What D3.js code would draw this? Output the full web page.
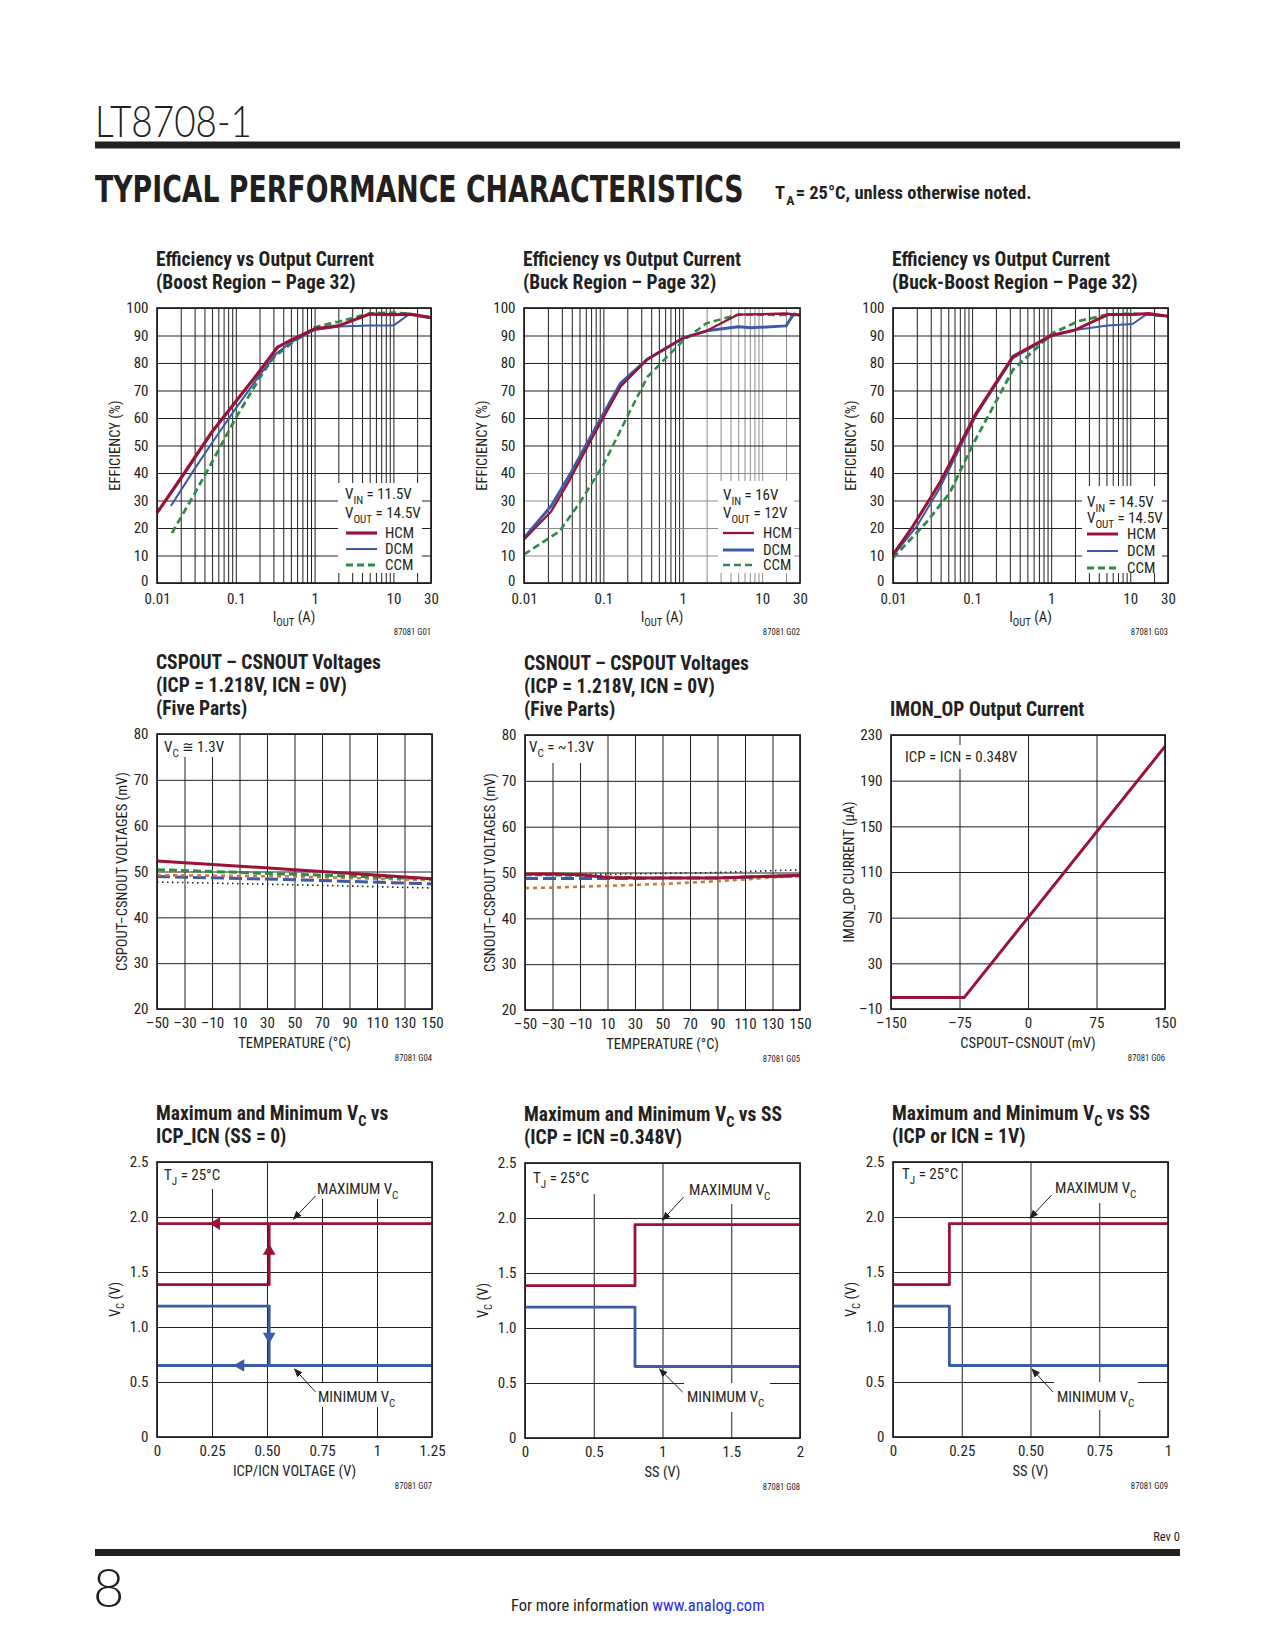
<!DOCTYPE html>
<html><head><meta charset="utf-8">
<script src="https://cdn.jsdelivr.net/npm/d3@7"></script>
<style>body{margin:0;background:#fff}svg{display:block}</style>
</head><body><svg id="c" width="1275" height="1650"></svg>
<script>
// ================= DATA =================
const MODES = ['HCM', 'DCM', 'CCM'];
const EFF_X_TICKS = [0.01, 0.1, 1, 10, 30];
const EFF_X_LABELS = ['0.01', '0.1', '1', '10', '30'];
const EFF_Y_TICKS = [0, 10, 20, 30, 40, 50, 60, 70, 80, 90, 100];
const EFF_Y_LABELS = ['0', '10', '20', '30', '40', '50', '60', '70', '80', '90', '100'];

// G01 boost region  [IOUT (A), efficiency %]
const G01_HCM = [[0.01,25.5],[0.02,38],[0.05,55],[0.1,66],[0.2,77],[0.34,85.8],[0.5,88.3],[1,92.4],[2,93.5],[5,97.8],[10,97.6],[16,97.8],[30,96.5]];
const G01_DCM = [[0.015,28],[0.03,41.5],[0.05,51],[0.1,63.5],[0.2,75.5],[0.33,83.5],[0.5,87.5],[1,92],[2,93.3],[5,93.6],[10,93.6],[16,97.8],[30,96.4]];
const G01_CCM = [[0.0155,18.2],[0.03,32.5],[0.05,44],[0.1,60],[0.2,74.5],[0.3,82],[0.5,87],[1,93],[2,95],[5,98],[10,98.3],[16,97.9],[30,96.4]];
const G01_COND = ['11.5V', '14.5V'];
// G02 buck region
const G02_HCM = [[0.01,15.8],[0.022,26],[0.038,37.7],[0.07,52],[0.165,71.5],[0.36,81.4],[1,89],[2,91.7],[5,97.6],[10,97.8],[20,98],[30,97.4]];
const G02_DCM = [[0.01,16.4],[0.022,28],[0.038,39.5],[0.07,53.5],[0.165,72.7],[0.36,81.4],[1,89],[2,91.7],[5,93.2],[7.3,92.8],[20,93.5],[25,97.8],[30,97.4]];
const G02_CCM = [[0.01,10.4],[0.028,18.8],[0.05,29],[0.1,43],[0.2,60.5],[0.36,75],[1,88],[2,94.5],[5,97.6],[30,97.4]];
const G02_COND = ['16V', '12V'];
// G03 buck-boost region
const G03_HCM = [[0.01,10.3],[0.018,20.8],[0.039,36.4],[0.113,61.8],[0.33,82.4],[1,90],[2,92],[5.2,97.6],[10.7,97.6],[17,98],[30,97]];
const G03_DCM = [[0.01,10],[0.02,20.6],[0.039,34.5],[0.113,61],[0.33,81.8],[1,89.7],[2,92],[5.2,93.6],[10.7,94.2],[15.8,97.6],[30,97]];
const G03_CCM = [[0.01,9.1],[0.026,21.8],[0.052,32.7],[0.102,50.3],[0.33,77.6],[1.05,90.9],[2.2,95.2],[5.2,97.6],[10.7,98],[30,97]];
const G03_COND = ['14.5V', '14.5V'];

// G04 / G05 temperature sweeps (five parts)
const TEMP_TICKS = [-50, -30, -10, 10, 30, 50, 70, 90, 110, 130, 150];
const TEMP_LABELS = ['\u201350', '\u201330', '\u201310', '10', '30', '50', '70', '90', '110', '130', '150'];
const MV_TICKS = [20, 30, 40, 50, 60, 70, 80];
const MV_LABELS = ['20', '30', '40', '50', '60', '70', '80'];
const G04_T = [-50, 50, 150];
const G04_P1 = [52.3, 50.4, 48.4];
const G04_P2 = [50.4, 49.4, 48.4];
const G04_P3 = [49.2, 48.9, 48.1];
const G04_P4 = [48.9, 48.2, 47.3];
const G04_P5 = [47.7, 47.1, 46.4];
const G05_T = [-50, -30, -10, 10, 30, 50, 70, 90, 110, 130, 150];
const G05_P1 = [49.7, 49.7, 49.5, 48.9, 48.8, 48.8, 48.8, 48.8, 49.0, 49.2, 49.4];
const G05_P2 = [49.6, 49.6, 49.6, 49.6, 49.7, 49.8, 49.9, 50.0, 50.2, 50.4, 50.6];
const G05_P3 = [48.7, 48.7, 48.7, 48.7, 48.7, 48.8, 48.8, 48.8, 49.0, 49.2, 49.3];
const G05_P4 = [49.4, 49.4, 49.3, 49.1, 48.9, 48.8, 48.8, 48.8, 48.9, 49.1, 49.2];
const G05_P5 = [46.6, 46.7, 46.9, 47.1, 47.3, 47.5, 47.8, 48.1, 48.5, 48.9, 49.3];

// G06 IMON_OP
const G06_X_TICKS = [-150, -75, 0, 75, 150];
const G06_X_LABELS = ['\u2013150', '\u201375', '0', '75', '150'];
const G06_Y_TICKS = [-10, 30, 70, 110, 150, 190, 230];
const G06_Y_LABELS = ['\u201310', '30', '70', '110', '150', '190', '230'];
const G06_MV = [-150, -70, 150];
const G06_UA = [0, 0, 220];

// G07..G09  VC limits
const VC_TICKS = [0, 0.5, 1, 1.5, 2, 2.5];
const VC_LABELS = ['0', '0.5', '1.0', '1.5', '2.0', '2.5'];
const G07_X_TICKS = [0, 0.25, 0.5, 0.75, 1, 1.25];
const G07_X_LABELS = ['0', '0.25', '0.50', '0.75', '1', '1.25'];
const G07_MAX_HI = [[0, 1.94], [1.25, 1.94]];
const G07_MAX_LO = [[0, 1.385], [0.51, 1.385], [0.51, 1.94]];
const G07_MIN_LO = [[0, 0.65], [1.25, 0.65]];
const G07_MIN_HI = [[0, 1.19], [0.51, 1.19], [0.51, 0.65]];
const G07_FLOW = [[0.27, 1.94, 'left', 'max'], [0.51, 1.69, 'up', 'max'], [0.51, 0.915, 'down', 'min'], [0.38, 0.65, 'left', 'min']];
const G08_X_TICKS = [0, 0.5, 1, 1.5, 2];
const G08_X_LABELS = ['0', '0.5', '1', '1.5', '2'];
const G08_MAX = [[0, 1.385], [0.8, 1.385], [0.8, 1.94], [2, 1.94]];
const G08_MIN = [[0, 1.19], [0.8, 1.19], [0.8, 0.65], [2, 0.65]];
const G09_X_TICKS = [0, 0.25, 0.5, 0.75, 1];
const G09_X_LABELS = ['0', '0.25', '0.50', '0.75', '1'];
const G09_MAX = [[0, 1.385], [0.205, 1.385], [0.205, 1.94], [1, 1.94]];
const G09_MIN = [[0, 1.19], [0.205, 1.19], [0.205, 0.65], [1, 0.65]];
// callout arrows [tailX, tailY, tipX, tipY] in data units
const G07_CALL = [[0.72, 2.19, 0.62, 1.98], [0.72, 0.41, 0.625, 0.62]];
const G08_CALL = [[1.153, 2.19, 1.0, 1.98], [1.146, 0.418, 0.978, 0.627]];
const G09_CALL = [[0.577, 2.2, 0.498, 1.99], [0.582, 0.409, 0.505, 0.618]];

// ================= STYLE =================
const FONT = "'Liberation Sans Narrow','Arial Narrow','Roboto Condensed','DejaVu Sans Condensed',sans-serif";
const INK = '#231f20', RED = '#9a1236', BLUE = '#3b5aa8', GREEN = '#2f8a49', ORANGE = '#c97a36';

const svg = d3.select('#c');
svg.append('rect').attr('width', 1275).attr('height', 1650).attr('fill', '#fff');
const defs = svg.append('defs');
defs.append('marker').attr('id', 'ah').attr('viewBox', '0 0 10 10').attr('refX', 9).attr('refY', 5)
  .attr('markerWidth', 9).attr('markerHeight', 9).attr('markerUnits', 'userSpaceOnUse').attr('orient', 'auto')
  .append('path').attr('d', 'M0,1 L10,5 L0,9 Z').attr('fill', INK);

function rich(parent, x, y, parts, o) {
  const fs = o.size;
  const t = parent.append('text').attr('x', x).attr('y', y)
    .attr('font-family', o.family || FONT).attr('font-size', fs)
    .attr('font-weight', o.weight || 'normal').attr('fill', o.fill || INK)
    .attr('text-anchor', o.anchor || 'start');
  if (o.rotate) t.attr('transform', `rotate(-90,${x},${y})`);
  let shift = 0;
  parts.forEach(p => {
    const isSub = typeof p !== 'string' && p.sub !== undefined;
    const txt = typeof p === 'string' ? p : (isSub ? p.sub : p.t);
    const target = isSub ? fs * 0.3 : 0;
    const ts = t.append('tspan').text(txt);
    if (target !== shift) { ts.attr('dy', target - shift); shift = target; }
    if (isSub) ts.attr('font-size', fs * 0.74);
    if (typeof p !== 'string' && p.fill) ts.attr('fill', p.fill);
  });
  return t;
}

// text squeezed horizontally to a given width via a transform (keeps bbox honest)
function fitText(parent, x, y, str, width, o) {
  const t = parent.append('text').attr('x', 0).attr('y', 0)
    .attr('font-family', o.family).attr('font-weight', o.weight).attr('font-size', o.size)
    .attr('fill', INK).text(str);
  const natural = t.node().getComputedTextLength();
  t.attr('transform', `translate(${x},${y}) scale(${width / natural},1)`);
  return t;
}

// separate text pieces laid out one after another (no tspans)
function pieces(parent, x, y, parts, o) {
  let cx = x;
  parts.forEach(p => {
    const isSub = typeof p !== 'string';
    const fs = isSub ? o.size * 0.74 : o.size;
    const t = parent.append('text').attr('x', cx).attr('y', isSub ? y + o.size * 0.3 : y)
      .attr('font-family', FONT).attr('font-size', fs).attr('font-weight', o.weight || 'normal')
      .attr('fill', INK).text(isSub ? p.sub : p);
    cx += t.node().getComputedTextLength() + 1.2;
  });
}

function panel(c) {
  const R = c.L + c.W, B = c.T + c.H;
  const x = c.x.copy().range([c.L, R]);
  const y = c.y.copy().range([B, c.T]);
  const g = svg.append('g');
  const gc = c.gridColor || (() => INK);
  const gx = g.append('g').attr('transform', `translate(0,${B})`)
    .call(d3.axisBottom(x).tickValues(c.xGrid).tickSize(-c.H).tickFormat(''));
  gx.select('.domain').remove();
  gx.selectAll('.tick line').attr('stroke', d => gc('x', d)).attr('stroke-width', 1);
  const gy = g.append('g').attr('transform', `translate(${c.L},0)`)
    .call(d3.axisLeft(y).tickValues(c.yGrid).tickSize(-c.W).tickFormat(''));
  gy.select('.domain').remove();
  gy.selectAll('.tick line').attr('stroke', d => gc('y', d)).attr('stroke-width', 1);
  (c.masks || []).forEach(m => {
    const ox = m[4] === 'R' ? R : c.L, oy = m[5] === 'B' ? B : c.T;
    g.append('rect').attr('x', ox + m[0]).attr('y', oy + m[1]).attr('width', m[2]).attr('height', m[3]).attr('fill', '#fff');
  });
  const line = d3.line().x(d => x(d[0])).y(d => y(d[1]));
  (c.series || []).forEach(s => {
    g.append('path').datum(s.data).attr('d', line).attr('fill', 'none')
      .attr('stroke', s.color).attr('stroke-width', s.w)
      .attr('stroke-dasharray', s.dash || null).attr('stroke-linejoin', 'round')
      .attr('stroke-linecap', s.cap || 'butt');
  });
  g.append('rect').attr('x', c.L).attr('y', c.T).attr('width', c.W).attr('height', c.H)
    .attr('fill', 'none').attr('stroke', INK).attr('stroke-width', 1.7);
  // tick labels
  const lx = g.append('g').attr('transform', `translate(0,${B})`)
    .call(d3.axisBottom(x).tickValues(c.xTicks).tickFormat((d, i) => c.xLabels[i]).tickSize(0).tickPadding(c.xPad || 8.3));
  lx.select('.domain').remove();
  lx.selectAll('text').attr('font-family', FONT).attr('font-size', 15).attr('fill', INK);
  const ly = g.append('g').attr('transform', `translate(${c.L},0)`)
    .call(d3.axisLeft(y).tickValues(c.yTicks).tickFormat((d, i) => c.yLabels[i]).tickSize(0).tickPadding(8.5));
  ly.select('.domain').remove();
  ly.selectAll('text').attr('font-family', FONT).attr('font-size', 15).attr('fill', INK);
  if (c.y0Lift) ly.selectAll('.tick').filter(d => d === c.yTicks[0]).select('text').attr('y', -c.y0Lift);
  // titles
  const n = c.title.length;
  c.title.forEach((parts, i) => rich(g, c.L - 1, c.T - 19 - 23 * (n - 1 - i), parts, { size: 19.5, weight: 'bold' }));
  rich(g, c.L - c.yTitleOff, c.T + c.H / 2, c.yTitle, { size: 14.5, anchor: 'middle', rotate: true });
  rich(g, c.L + c.W / 2, B + 38.5, c.xTitle, { size: 14.5, anchor: 'middle' });
  g.append('text').attr('x', R).attr('y', B + 52).attr('text-anchor', 'end')
    .attr('font-family', FONT).attr('font-size', 8.7).attr('fill', INK).text(c.code);
  (c.notes || []).forEach(nt => rich(g, c.L + nt[0], c.T + nt[1], nt[2], { size: 15 }));
  return { g, x, y, R, B };
}

function effLegend(p, lg, cond, styles) {
  rich(p.g, p.R + lg.tx, p.B + lg.vin, ['V', { sub: 'IN' }, ' = ' + cond[0]], { size: 15 });
  rich(p.g, p.R + lg.tx, p.B + lg.vout, ['V', { sub: 'OUT' }, ' = ' + cond[1]], { size: 15 });
  MODES.forEach((m, i) => {
    const yy = p.B + lg.rows[i];
    p.g.append('line').attr('x1', p.R + lg.lx).attr('x2', p.R + lg.lx + 31).attr('y1', yy).attr('y2', yy)
      .attr('stroke', styles[i].color).attr('stroke-width', styles[i].w).attr('stroke-dasharray', styles[i].dash || null);
    p.g.append('text').attr('x', p.R + lg.mx).attr('y', yy + 5).attr('font-family', FONT).attr('font-size', 15)
      .attr('fill', INK).text(m);
  });
}

function callouts(p, calls, labels) {
  calls.forEach(cl => {
    p.g.append('line').attr('x1', p.x(cl[0])).attr('y1', p.y(cl[1])).attr('x2', p.x(cl[2])).attr('y2', p.y(cl[3]))
      .attr('stroke', INK).attr('stroke-width', 1).attr('marker-end', 'url(#ah)');
  });
  labels.forEach(lb => rich(p.g, p.x.range()[0] + lb[0], p.y.range()[1] + lb[1], lb[2], { size: 15 }));
}

// ================= HEADER / FOOTER =================
fitText(svg, 95, 137, 'LT8708-1', 157, { family: "Lato,'DejaVu Sans',sans-serif", weight: 300, size: 44 });
svg.append('rect').attr('x', 95).attr('y', 141.5).attr('width', 1085).attr('height', 7).attr('fill', INK);
fitText(svg, 95, 202, 'TYPICAL PERFORMANCE CHARACTERISTICS', 649,
  { family: "'DejaVu Sans Condensed','DejaVu Sans',sans-serif", weight: 'bold', size: 38 });
pieces(svg, 775, 199, ['T', { sub: 'A' }, '= 25°C, unless otherwise noted.'], { size: 18.5, weight: 'bold' });
svg.append('text').attr('x', 1180).attr('y', 1541).attr('text-anchor', 'end').attr('font-family', FONT)
  .attr('font-size', 12.5).attr('fill', INK).text('Rev 0');
svg.append('rect').attr('x', 95).attr('y', 1549).attr('width', 1085).attr('height', 7).attr('fill', INK);
svg.append('text').attr('x', 93).attr('y', 1607).attr('font-family', "Lato,'DejaVu Sans',sans-serif").attr('font-weight', 300)
  .attr('font-size', 54).attr('fill', INK).text('8');
rich(svg, 511, 1611, ['For more information ', { t: 'www.analog.com', fill: '#1f2cf0' }], { size: 16.5 });

// ================= ROW 1: efficiency =================
const logGrid = d3.scaleLog().domain([0.01, 30]).ticks();
function effCfg(L, title, code, series, extra) {
  return Object.assign({
    L: L, T: 308, W: 275, H: 275,
    x: d3.scaleLog().domain([0.01, 30]), y: d3.scaleLinear().domain([0, 100]),
    xGrid: logGrid, yGrid: EFF_Y_TICKS, xTicks: EFF_X_TICKS, xLabels: EFF_X_LABELS,
    yTicks: EFF_Y_TICKS, yLabels: EFF_Y_LABELS, title: title, xPad: 10, y0Lift: 2.5,
    yTitle: ['EFFICIENCY (%)'], yTitleOff: 37, xTitle: ['I', { sub: 'OUT' }, ' (A)'], code: code, series: series
  }, extra || {});
}
const st1 = [{ color: RED, w: 3.2 }, { color: BLUE, w: 2 }, { color: GREEN, w: 2.8, dash: '7,4' }];
const p1 = panel(effCfg(157, [['Efficiency vs Output Current'], ['(Boost Region \u2013 Page 32)']], '87081 G01',
  [{ data: G01_CCM, ...st1[2] }, { data: G01_DCM, ...st1[1] }, { data: G01_HCM, ...st1[0] }],
  { W: 274, masks: [[-93, -100, 84, 90, 'R', 'B']] }));
effLegend(p1, { tx: -86, vin: -84, vout: -65, rows: [-50, -34, -18], lx: -85, mx: -46 }, G01_COND, st1);

const st2 = [{ color: RED, w: 2.3 }, { color: BLUE, w: 3 }, { color: GREEN, w: 2.5, dash: '7,4' }];
const p2 = panel(effCfg(524, [['Efficiency vs Output Current'], ['(Buck Region \u2013 Page 32)']], '87081 G02',
  [{ data: G02_CCM, ...st2[2] }, { data: G02_DCM, ...st2[1] }, { data: G02_HCM, ...st2[0] }],
  { W: 276, masks: [[-82, -102, 76, 92, 'R', 'B']],
    gridColor: (a, d) => (a === 'x' ? d >= 2 : (d > 0 && d <= 40)) ? '#8c8c8c' : INK }));
effLegend(p2, { tx: -77, vin: -83, vout: -65, rows: [-50, -33, -18], lx: -77, mx: -37 }, G02_COND, st2);

const st3 = [{ color: RED, w: 3 }, { color: BLUE, w: 2 }, { color: GREEN, w: 2.8, dash: '7,4' }];
const p3 = panel(effCfg(893, [['Efficiency vs Output Current'], ['(Buck-Boost Region \u2013 Page 32)']], '87081 G03',
  [{ data: G03_CCM, ...st3[2] }, { data: G03_DCM, ...st3[1] }, { data: G03_HCM, ...st3[0] }],
  { masks: [[-86, -97, 80, 87, 'R', 'B']] }));
effLegend(p3, { tx: -81, vin: -76, vout: -60, rows: [-49, -32, -15], lx: -81, mx: -41 }, G03_COND, st3);

// ================= ROW 2 =================
const zipT = (t, v) => t.map((d, i) => [d, v[i]]);
function tempCfg(L, T, title, yTitle, code, series, notes, masks) {
  return {
    L: L, T: T, W: 275, H: 275,
    x: d3.scaleLinear().domain([-50, 150]), y: d3.scaleLinear().domain([20, 80]),
    xGrid: TEMP_TICKS, yGrid: MV_TICKS, xTicks: TEMP_TICKS, xLabels: TEMP_LABELS,
    yTicks: MV_TICKS, yLabels: MV_LABELS, title: title, yTitle: [yTitle], yTitleOff: 30,
    xTitle: ['TEMPERATURE (°C)'], code: code, series: series, notes: notes, masks: masks
  };
}
panel(tempCfg(157, 734,
  [['CSPOUT \u2013 CSNOUT Voltages'], ['(ICP = 1.218V, ICN = 0V)'], ['(Five Parts)']],
  'CSPOUT\u2013CSNOUT VOLTAGES (mV)', '87081 G04',
  [{ data: zipT(G04_T, G04_P5), color: INK, w: 1.6, dash: '1.5,3.5', cap: 'butt' },
   { data: zipT(G04_T, G04_P4), color: BLUE, w: 3, dash: '13,5' },
   { data: zipT(G04_T, G04_P3), color: ORANGE, w: 2.6, dash: '4,4' },
   { data: zipT(G04_T, G04_P2), color: GREEN, w: 3, dash: '8,4' },
   { data: zipT(G04_T, G04_P1), color: RED, w: 3 }],
  [[7, 18, ['V', { sub: 'C' }, ' \u2245 1.3V']]], [[1, 1, 73, 22]]));

panel(tempCfg(525, 735,
  [['CSNOUT \u2013 CSPOUT Voltages'], ['(ICP = 1.218V, ICN = 0V)'], ['(Five Parts)']],
  'CSNOUT\u2013CSPOUT VOLTAGES (mV)', '87081 G05',
  [{ data: zipT(G05_T, G05_P5), color: ORANGE, w: 2.6, dash: '4,4' },
   { data: zipT(G05_T, G05_P2), color: INK, w: 1.6, dash: '1.5,3.5' },
   { data: zipT(G05_T, G05_P4), color: GREEN, w: 2.2, dash: '7,3' },
   { data: zipT(G05_T, G05_P3), color: BLUE, w: 3, dash: '13,5' },
   { data: zipT(G05_T, G05_P1), color: RED, w: 3 }],
  [[4, 17, ['V', { sub: 'C' }, ' = ~1.3V']]], [[1, 1, 75, 27]]));

panel({
  L: 891, T: 735, W: 274, H: 274,
  x: d3.scaleLinear().domain([-150, 150]), y: d3.scaleLinear().domain([-10, 230]),
  xGrid: G06_X_TICKS, yGrid: G06_Y_TICKS, xTicks: G06_X_TICKS, xLabels: G06_X_LABELS,
  yTicks: G06_Y_TICKS, yLabels: G06_Y_LABELS, title: [['IMON_OP Output Current']],
  yTitle: ['IMON_OP CURRENT (\u00b5A)'], yTitleOff: 37, xTitle: ['CSPOUT\u2013CSNOUT (mV)'], code: '87081 G06',
  series: [{ data: zipT(G06_MV, G06_UA), color: RED, w: 3 }],
  notes: [[14, 27, ['ICP = ICN = 0.348V']]], masks: [[10, 10, 112, 24]]
});

// ================= ROW 3 =================
function vcCfg(L, T, xDom, xT, xL, title, xTitle, code, series, masks, tjNote) {
  return {
    L: L, T: T, W: 275, H: 275,
    x: d3.scaleLinear().domain(xDom), y: d3.scaleLinear().domain([0, 2.5]),
    xGrid: xT, yGrid: VC_TICKS, xTicks: xT, xLabels: xL, yTicks: VC_TICKS, yLabels: VC_LABELS,
    title: title, yTitle: ['V', { sub: 'C' }, ' (V)'], yTitleOff: 37, xTitle: xTitle, code: code,
    series: series, masks: masks, notes: [tjNote]
  };
}
const TJ = ['T', { sub: 'J' }, ' = 25°C'];
const MAXL = ['MAXIMUM V', { sub: 'C' }], MINL = ['MINIMUM V', { sub: 'C' }];

const p7 = panel(vcCfg(157, 1162, [0, 1.25], G07_X_TICKS, G07_X_LABELS,
  [['Maximum and Minimum V', { sub: 'C' }, ' vs'], ['ICP_ICN (SS = 0)']], ['ICP/ICN VOLTAGE (V)'], '87081 G07',
  [{ data: G07_MAX_HI, color: RED, w: 2.8 }, { data: G07_MAX_LO, color: RED, w: 2.8 },
   { data: G07_MIN_LO, color: BLUE, w: 2.8 }, { data: G07_MIN_HI, color: BLUE, w: 2.8 }],
  [[1, 1, 66, 26], [157, 1, 86, 36], [158, 221, 84, 24]], [7, 18, TJ]));
const rot = { left: -90, up: 0, down: 180 };
G07_FLOW.forEach(f => {
  p7.g.append('path').attr('d', d3.symbol(d3.symbolTriangle, 70)())
    .attr('transform', `translate(${p7.x(f[0])},${p7.y(f[1])}) rotate(${rot[f[2]]})`)
    .attr('fill', f[3] === 'max' ? RED : BLUE);
});
callouts(p7, G07_CALL, [[160, 32, MAXL], [161, 240, MINL]]);

const p8 = panel(vcCfg(525, 1163, [0, 2], G08_X_TICKS, G08_X_LABELS,
  [['Maximum and Minimum V', { sub: 'C' }, ' vs SS'], ['(ICP = ICN =0.348V)']], ['SS  (V)'], '87081 G08',
  [{ data: G08_MAX, color: RED, w: 2.8 }, { data: G08_MIN, color: BLUE, w: 2.8 }],
  [[1, 1, 70, 30], [160, 1, 86, 40], [159, 220, 86, 29]], [8, 20, TJ]));
callouts(p8, G08_CALL, [[164, 32, MAXL], [162, 239, MINL]]);

const p9 = panel(vcCfg(893, 1162, [0, 1], G09_X_TICKS, G09_X_LABELS,
  [['Maximum and Minimum V', { sub: 'C' }, ' vs SS'], ['(ICP or ICN = 1V)']], ['SS (V)'], '87081 G09',
  [{ data: G09_MAX, color: RED, w: 2.8 }, { data: G09_MIN, color: BLUE, w: 2.8 }],
  [[1, 1, 66, 25], [158, 1, 86, 40], [161, 220, 84, 28]], [9, 17, TJ]));
callouts(p9, G09_CALL, [[162, 31, MAXL], [164, 240, MINL]]);
</script></body></html>
